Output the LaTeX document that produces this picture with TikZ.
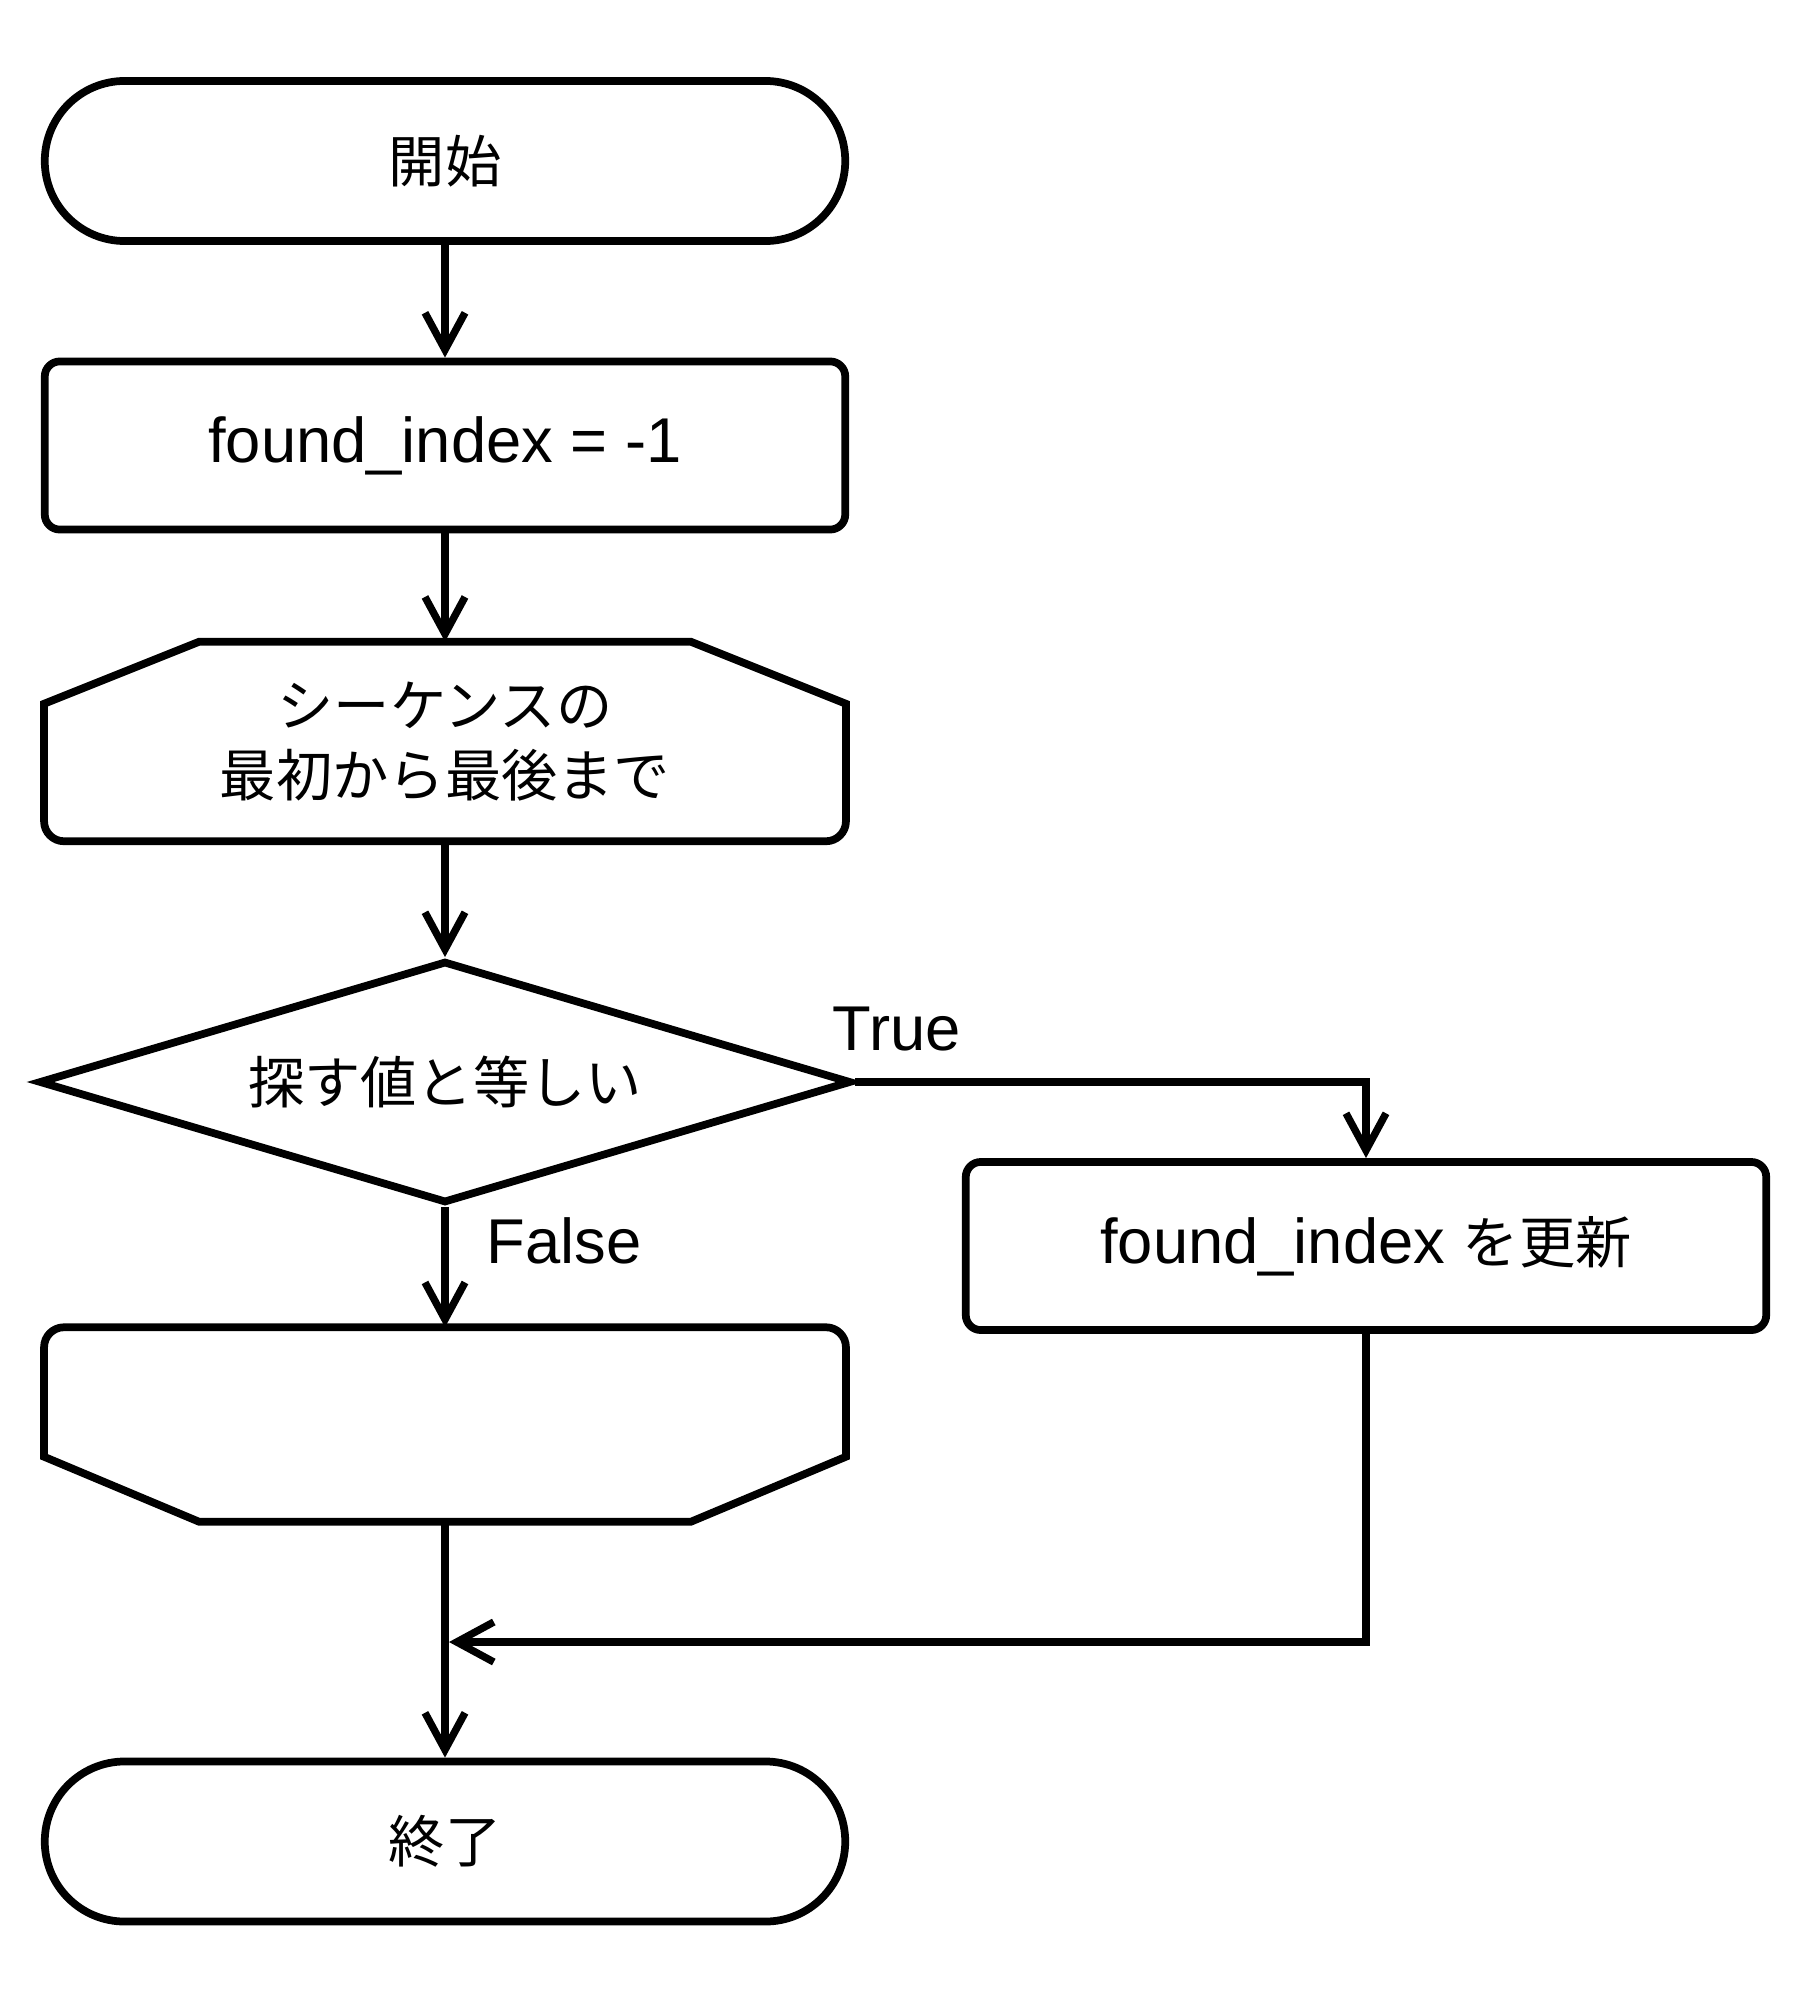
\documentclass[tikz,border=0pt]{standalone}
\usepackage{fontspec}
\usepackage{tikz}
\setmainfont{Liberation Sans}
\newfontfamily\jpfont{Noto Sans CJK JP}
\usetikzlibrary{shapes.geometric,arrows.meta}
\newcommand{\ja}[1]{{\jpfont\fontsize{16pt}{20pt}\selectfont #1}}

\tikzset{
  outline/.style={draw, line width=2.2pt},
  box/.style={outline, minimum width=8.0cm, inner sep=0pt, font=\fontsize{18pt}{21pt}\selectfont},
  terminal/.style={box, rounded corners=0.8cm, minimum height=1.60cm},
  process/.style={box, rounded corners=0.15cm, minimum height=1.68cm},
  decision/.style={box, diamond, aspect=3.4, minimum width=8.12cm, minimum height=2.42cm},
  loopbox/.style={minimum width=8.0cm, inner sep=0pt, align=center, font=\jpfont\fontsize{16pt}{20pt}\selectfont},
  label/.style={anchor=base west, inner sep=0pt, font=\fontsize{18pt}{21pt}\selectfont},
  flow/.style={line width=2.1pt, -{Straight Barb[length=0.37cm, width=0.4cm]}},
}

\begin{document}
\begin{tikzpicture}[x=0.01cm, y=-0.01cm]
\useasboundingbox (0,0) rectangle (1808,2000);

% main column
\node[terminal] (start) at (445,161) {\ja{開始}};
\node[process] (init) at (445,445.5) {found\_index = -1};

% loop head
\node[loopbox, minimum height=1.98cm] (loopA) at (445,741.5) {シーケンスの\\最初から最後まで};
\draw[outline] ([xshift=1.55cm]loopA.north west) -- ([xshift=-1.55cm]loopA.north east)
  -- ([yshift=-0.62cm]loopA.north east)
  {[rounded corners=0.2cm] -- (loopA.south east) -- (loopA.south west)}
  -- ([yshift=-0.62cm]loopA.north west) -- cycle;

\node[decision] (cond) at (445,1082) {\ja{探す値と等しい}};

% loop tail
\node[loopbox, minimum height=1.93cm] (loopB) at (445,1424.5) {};
\draw[outline] ([xshift=1.55cm]loopB.south west) -- ([xshift=-1.55cm]loopB.south east)
  -- ([yshift=0.65cm]loopB.south east)
  {[rounded corners=0.2cm] -- (loopB.north east) -- (loopB.north west)}
  -- ([yshift=0.65cm]loopB.south west) -- cycle;

\node[terminal] (end) at (445,1841.5) {\ja{終了}};

% branch
\node[process] (upd) at (1366,1246) {found\_index \ja{を更新}};
\coordinate (merge) at (449,1642);

\node[label] (lblTrue) at (832,1050) {True};
\node[label] (lblFalse) at (486,1263) {False};

% connectors
\draw[flow] (start) -- (init);
\draw[flow] (init) -- (loopA);
\draw[flow] (loopA) -- (cond);
\draw[flow] (cond.east) -| (upd);
\draw[flow] (cond) -- (loopB);
\draw[flow] (upd) |- (merge);
\draw[flow] (loopB) -- (end);
\end{tikzpicture}
\end{document}
